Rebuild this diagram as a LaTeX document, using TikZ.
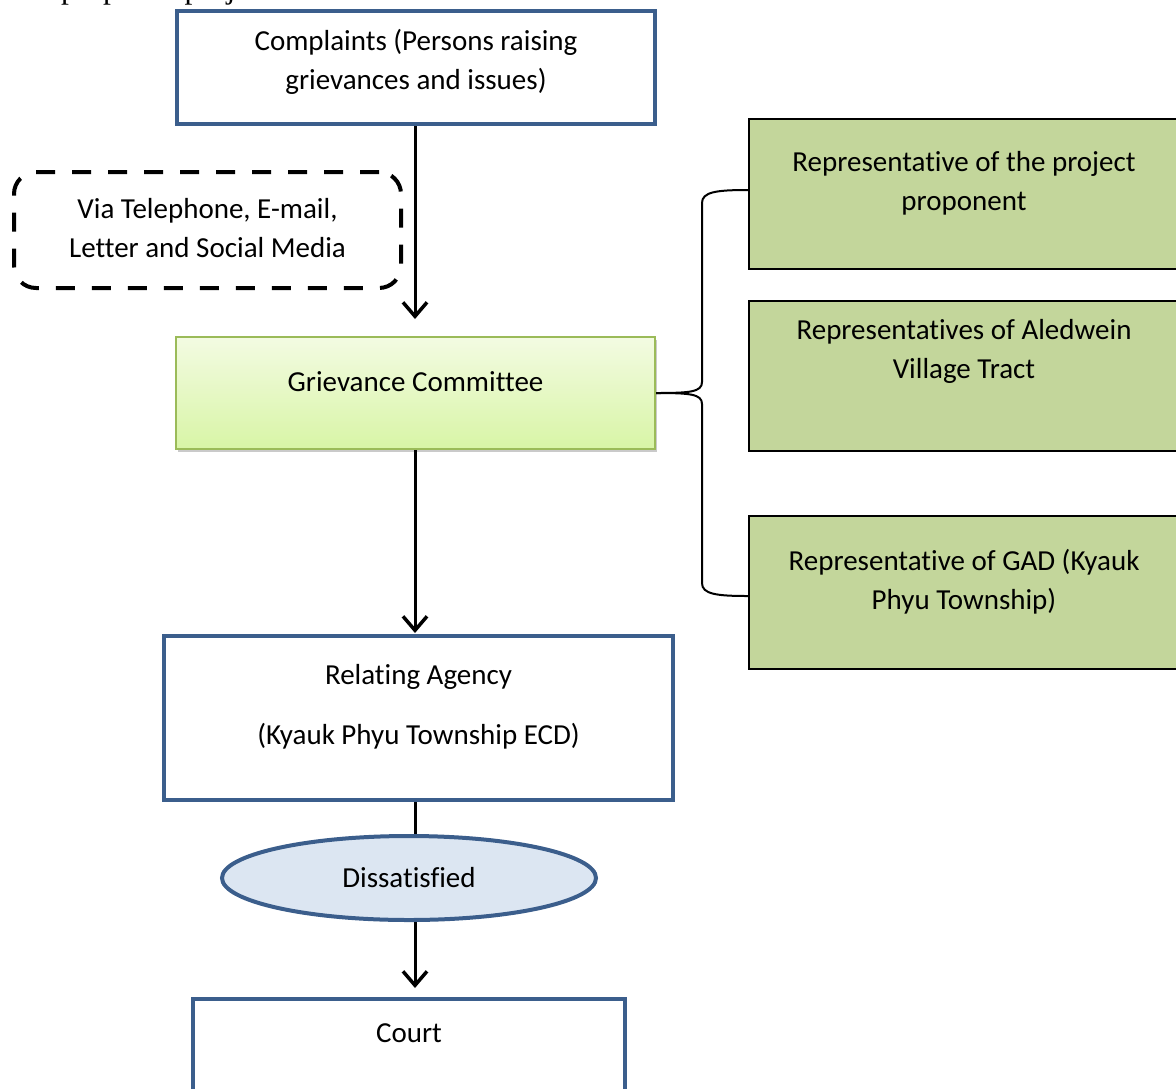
\documentclass[tikz,border=0pt]{standalone}
\usepackage{fontspec}
\setmainfont{Carlito}[Ligatures=NoCommon]
\newfontfamily\bodyserif{Liberation Serif}
\usetikzlibrary{arrows.meta,shapes.geometric,shadows,calc}

\definecolor{flowblue}{HTML}{3B5E8C}
\definecolor{ovalfill}{HTML}{DCE6F2}
\definecolor{repgreen}{HTML}{C3D69B}
\definecolor{gcborder}{HTML}{9BBB59}
\definecolor{gctop}{HTML}{F3FBE2}
\definecolor{gcbottom}{HTML}{D8F5A6}

\tikzset{
  flowbox/.style={draw=flowblue, line width=4pt, fill=white, inner sep=0pt},
  repbox/.style={draw=black, line width=2pt, fill=repgreen, inner sep=0pt,
                 minimum width=442pt},
  txt/.style={align=center, inner sep=0pt,
              font=\fontsize{29}{39}\selectfont},
  arr/.style={line width=3pt, -{Straight Barb[length=14pt,width=24pt,line width=3.5pt]}},
  link/.style={line width=3pt},
  bracket/.style={line width=2pt},
}

\begin{document}
\begin{tikzpicture}[x=1pt,y=-1pt]
\useasboundingbox (0,0) rectangle (1176,1088);
\clip (0,0) rectangle (1176,1088);

% line of running text above the chart
\node[anchor=base west, inner sep=0pt, font=\bodyserif\fontsize{31.5}{38}\selectfont]
  (prev) at (61,-1.5) {proposed project};

% main column
\node[flowbox, minimum width=478pt, minimum height=113pt] (C) at (416,67.5) {};
\node[txt] (Ct) at (416,61.5) {Complaints (Persons raising\\grievances and issues)};

\node[draw=black, dashed, dash pattern=on 19pt off 17pt, line width=4pt,
      rounded corners=22pt, minimum width=387pt, minimum height=116pt,
      inner sep=0pt] (V) at (207.5,230) {};
\node[txt] (Vt) at (207.5,228.5) {Via Telephone, E-mail,\\Letter and Social Media};

\node[draw=gcborder, line width=2pt, top color=gctop, bottom color=gcbottom,
      minimum width=479pt, minimum height=112pt, inner sep=0pt,
      drop shadow={shadow xshift=2pt, shadow yshift=-3pt, opacity=0.35, fill=black!60}]
  (G) at (415.5,393) {};
\node[txt] (Gt) at (415.5,382) {Grievance Committee};

\node[flowbox, minimum width=509pt, minimum height=164pt] (A) at (418.5,718) {};
\node[txt] (At) at (418.5,707) {Relating Agency\\[21pt](Kyauk Phyu Township ECD)};

\node[ellipse, draw=flowblue, line width=4pt, fill=ovalfill,
      minimum width=374pt, minimum height=84pt, inner sep=0pt] (D) at (409,878) {};
\node[txt] (Dt) at (409,878) {Dissatisfied};

\node[flowbox, minimum width=432pt, minimum height=130pt] (K) at (409,1064) {};
\node[txt] (Kt) at (409,1033) {Court};

% committee members
\node[repbox, minimum height=150pt] (R1) at (970,194) {};
\node[txt] (R1t) at (964,183.5) {Representative of the project\\proponent};
\node[repbox, minimum height=150pt] (R2) at (970,376) {};
\node[txt] (R2t) at (964,351) {Representatives of Aledwein\\Village Tract};
\node[repbox, minimum height=153pt] (R3) at (970,592.5) {};
\node[txt] (R3t) at (964,582) {Representative of GAD (Kyauk\\Phyu Township)};

% flow connectors
\coordinate (spine) at (415,0);
\draw[arr] (spine |- C.south) -- ([yshift=17pt]spine |- G.north);
\draw[arr] (spine |- G.south) -- ([yshift=1pt]spine |- A.north);
\draw[link] (spine |- A.south) -- (spine |- D.north);
\draw[arr] (spine |- D.south) -- ([yshift=9pt]spine |- K.north);

% brace joining the committee to its members
\coordinate (braceTop) at ($(R1.west)+(0,-4)$);
\coordinate (braceBot) at ($(R3.west)+(0,3.5)$);
\draw[bracket] (G.east) .. controls (690,393) and (702,392) .. (702,382)
  -- (702,203) .. controls (702,192) and (716,190) .. (braceTop);
\draw[bracket] (G.east) .. controls (690,393) and (702,394) .. (702,404)
  -- (702,583) .. controls (702,594) and (716,596) .. (braceBot);
\end{tikzpicture}
\end{document}
